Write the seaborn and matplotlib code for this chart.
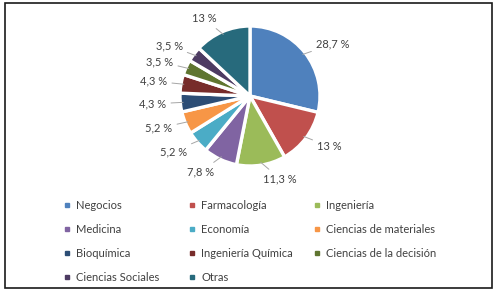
import numpy as np
import matplotlib
matplotlib.use("Agg")
import matplotlib.pyplot as plt
from matplotlib.lines import Line2D
from matplotlib.patches import Rectangle
import seaborn as sns

# data
categories = ["Negocios", "Farmacología", "Ingeniería", "Medicina", "Economía",
              "Ciencias de materiales", "Bioquímica", "Ingeniería Química",
              "Ciencias de la decisión", "Ciencias Sociales", "Otras"]
values = [28.7, 13, 11.3, 7.8, 5.2, 5.2, 4.3, 4.3, 3.5, 3.5, 13]
value_labels = ["28,7 %", "13 %", "11,3 %", "7,8 %", "5,2 %", "5,2 %",
                "4,3 %", "4,3 %", "3,5 %", "3,5 %", "13 %"]
colors = ["#4F81BD", "#C0504D", "#9BBB59", "#8064A2", "#4BACC6", "#F79646",
          "#2C4D75", "#772C2A", "#5F7530", "#4D3B62", "#276A7C"]

sns.set_theme(style="white")
plt.rcParams['font.family'] = ['Lato', 'DejaVu Sans']
text_col = "#404040"
palette = sns.color_palette(colors)

fig = plt.figure(figsize=(4.96, 2.94), dpi=100)
ax = fig.add_axes([(250 - 70) / 496, (294 - 96 - 70) / 294, 140 / 496, 140 / 294])

wedges, _ = ax.pie(values, colors=palette, startangle=90, counterclock=False,
                   radius=1.0, wedgeprops=dict(edgecolor="white", linewidth=2.4))
ax.set_xlim(-1.0, 1.0)
ax.set_ylim(-1.0, 1.0)
ax.set_aspect("equal")
ax.axis("off")

# labels with leader lines
for w, lab in zip(wedges, value_labels):
    ang = np.deg2rad((w.theta1 + w.theta2) / 2)
    c, s = np.cos(ang), np.sin(ang)
    ha = "left" if c > 0.1 else ("right" if c < -0.1 else "center")
    ax.annotate(lab, xy=(0.96 * c, 0.96 * s), xytext=(1.2 * c, 1.2 * s),
                ha=ha, va="center", fontsize=8, color=text_col,
                arrowprops=dict(arrowstyle="-", color="#A6A6A6", lw=0.7,
                                shrinkA=1, shrinkB=0),
                annotation_clip=False)

# legend: three columns, filled row by row
col_x = [63, 188, 313]
for j in range(3):
    idx = list(range(j, len(categories), 3))
    handles = [Line2D([], [], marker="s", linestyle="", markersize=3.2,
                      color=colors[i]) for i in idx]
    leg = fig.legend(handles, [categories[i] for i in idx], loc="upper left",
                     bbox_to_anchor=(col_x[j] / 496, 1 - 200 / 294),
                     frameon=False, fontsize=8, labelcolor=text_col,
                     handlelength=0.8, handletextpad=0.4, labelspacing=1.17,
                     borderpad=0, borderaxespad=0)

fig.patches.append(Rectangle((5 / 496, 6 / 294), 487 / 496, 285 / 294,
                             transform=fig.transFigure, fill=False,
                             edgecolor="#1a1a1a", linewidth=1.2))

fig.savefig("out.png", dpi=100)
